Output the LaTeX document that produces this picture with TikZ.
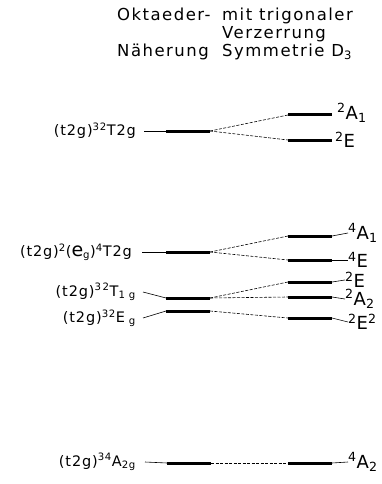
\documentclass[tikz,border=0pt]{standalone}
\usepackage{fontspec}
\setmainfont{DejaVu Sans}
\newfontfamily\letterfont[LetterSpace=6]{DejaVu Sans}
\newfontfamily\headfont[LetterSpace=9]{DejaVu Sans}
\usetikzlibrary{positioning}

\tikzstyle{bar} = [fill=black, minimum width=44pt, minimum height=3pt, inner sep=0pt, outer sep=0pt]
\tikzstyle{split} = [line width=0.6pt, dash pattern=on 3pt off 1.5pt]
\tikzstyle{lead} = [line width=0.6pt]
\tikzstyle{head} = [anchor=base west, inner sep=0pt, font=\headfont\fontsize{16.5}{18}\selectfont]
\tikzstyle{ohterm} = [anchor=east, inner sep=0pt, font=\letterfont\fontsize{14.5}{16}\selectfont]
\tikzstyle{dterm} = [anchor=west, inner sep=0pt, font=\letterfont\fontsize{18}{20}\selectfont]

\begin{document}
\begin{tikzpicture}[x=1pt, y=-1pt]
\useasboundingbox (0,0) rectangle (381,484);

% column heads
\node (oh1) [head] at (117,21) {Oktaeder-};
\node (oh2) [head] at (117,57) {Näherung};
\node (d31) [head] at (222,21) {mit trigonaler};
\node (d32) [head] at (222,39) {Verzerrung};
\node (d33) [head] at (222,57) {Symmetrie D\textsubscript{3}};

% octahedral levels
\node (tTg) [bar] at (188,131) {};
\node (qTg) [bar] at (188,252) {};
\node (tTa) [bar] at (188,298) {};
\node (tEg) [bar] at (188,311) {};
\node (qAg) [bar] at (189,463) {};

% trigonal levels
\node (tAa) [bar] at (310,115) {};
\node (tEa) [bar] at (310,140) {};
\node (qAb) [bar] at (310,236) {};
\node (qEb) [bar] at (310,260) {};
\node (tEc) [bar] at (310,282) {};
\node (tAc) [bar] at (310,297) {};
\node (tEd) [bar] at (310,318) {};
\node (qAd) [bar] at (310,463) {};

% configurations
\node (ltTg) [ohterm] at (136,131) {(t2g)\textsuperscript{32}T2g};
\node (lqTg) [ohterm] at (132,252) {(t2g)\textsuperscript{2}({\fontsize{19}{19}\selectfont e}\textsubscript{g})\textsuperscript{4}T2g};
\node (ltTa) [ohterm] at (136,292) {(t2g)\textsuperscript{3\,2}T\textsubscript{1 g}};
\node (ltEg) [ohterm] at (136,318) {(t2g)\textsuperscript{32}E\textsubscript{ g}};
\node (lqAg) [ohterm] at (136,462) {(t2g)\textsuperscript{34}A\textsubscript{2g}};

% trigonal terms
\node (rtAa) [dterm] at (337,113) {\textsuperscript{2}A\textsubscript{1}};
\node (rtEa) [dterm] at (335,140) {\textsuperscript{2}E};
\node (rqAb) [dterm] at (348,233) {\textsuperscript{4}A\textsubscript{1}};
\node (rqEb) [dterm] at (348,260) {\textsuperscript{4}E};
\node (rtEc) [dterm] at (345,280) {\textsuperscript{2}E};
\node (rtAc) [dterm] at (345,299) {\textsuperscript{2}A\textsubscript{2}};
\node (rtEd) [dterm] at (348,322) {\textsuperscript{2}E\textsuperscript{2}};
\node (rqAd) [dterm] at (348,462) {\textsuperscript{4}A\textsubscript{2}};

% leads
\draw [lead] (ltTg.east) ++(8,0) -- (tTg.west);
\draw [lead] (lqTg.east) ++(10,0) -- (qTg.west);
\draw [lead] (ltTa.east) ++(7,0) -- (tTa.west);
\draw [lead] (ltEg.east) ++(7,0) -- (tEg.west);
\draw [lead] (lqAg.east) ++(9,0) -- (qAg.west);
\draw [lead] (qAb.east) -- (rqAb.west);
\draw [lead] (qEb.east) -- (rqEb.west);
\draw [lead] (tEc.east) -- (rtEc.west);
\draw [lead] (tAc.east) -- (rtAc.west);
\draw [lead] (tEd.east) -- (rtEd.west);
\draw [lead] (qAd.east) -- (rqAd.west);

% splitting
\draw [split] (tTg.east) -- (tAa.west);
\draw [split] (tTg.east) -- (tEa.west);
\draw [split] (qTg.east) -- (qAb.west);
\draw [split] (qTg.east) -- (qEb.west);
\draw [split] (tTa.east) -- (tEc.west);
\draw [split] (tTa.east) -- (tAc.west);
\draw [split] (tEg.east) -- (tEd.west);
\draw [split] (qAg.east) -- (qAd.west);
\end{tikzpicture}
\end{document}
